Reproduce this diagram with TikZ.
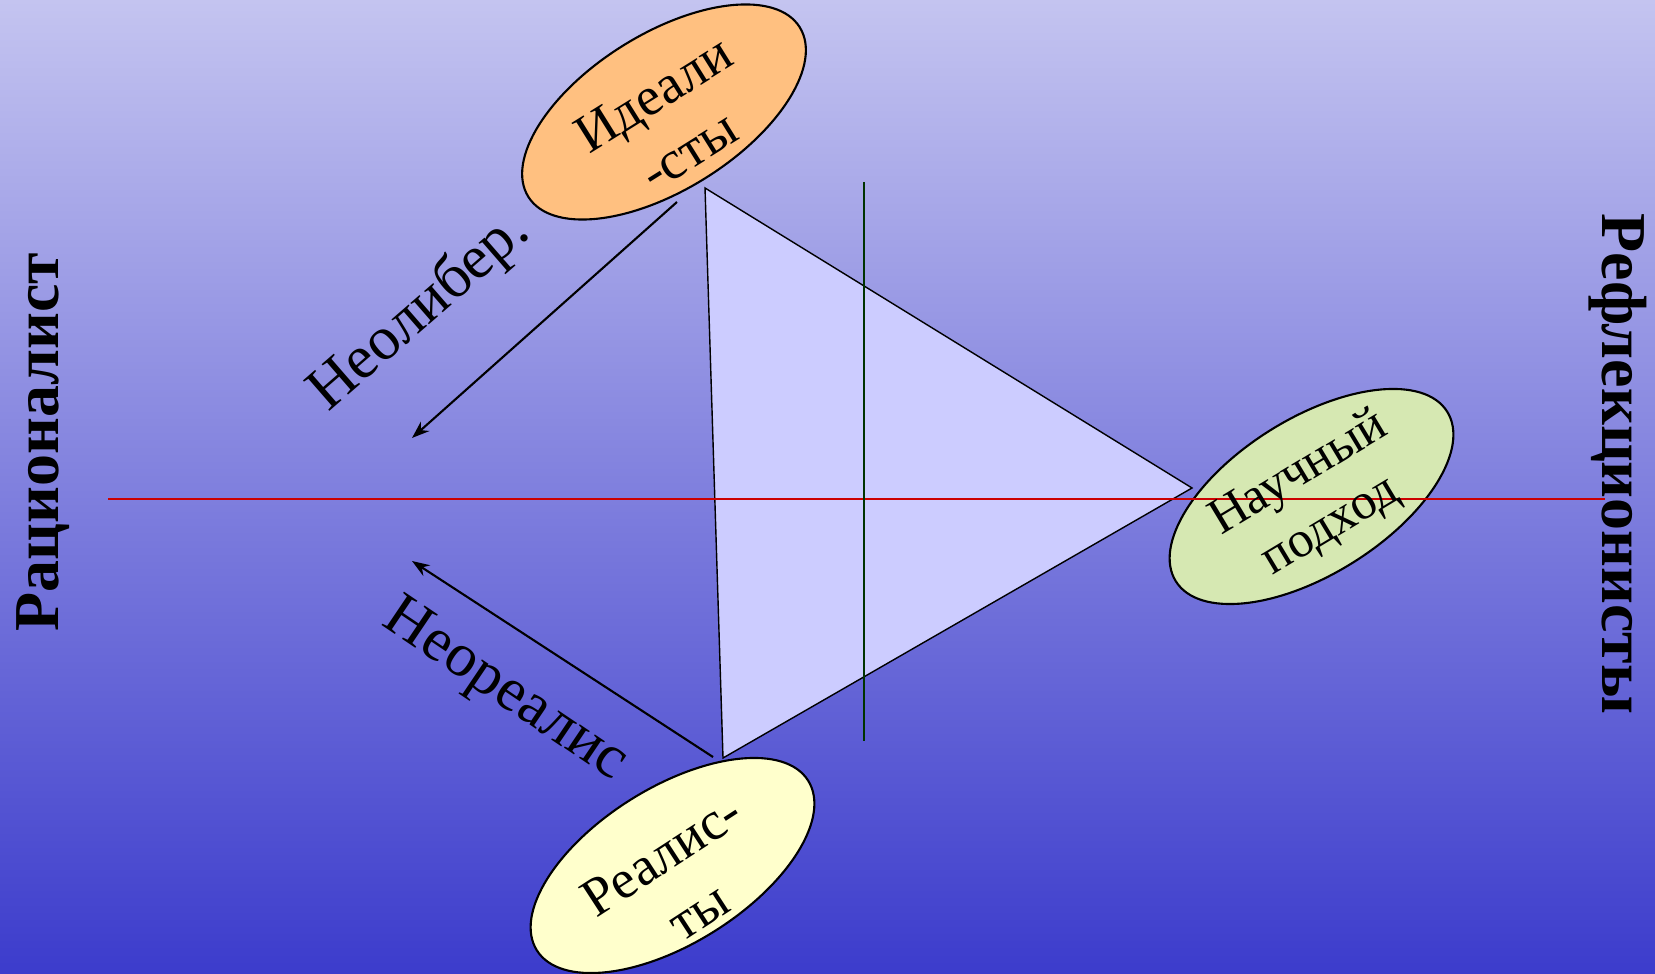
\documentclass[tikz,border=0pt]{standalone}
\usepackage{fontspec}
\setmainfont{Liberation Serif}
\usetikzlibrary{arrows.meta,shapes.geometric,positioning}
\definecolor{bgtop}{RGB}{196,196,240}
\definecolor{bgbot}{RGB}{60,60,204}
\definecolor{trifill}{RGB}{204,204,255}
\definecolor{idlfill}{RGB}{255,192,128}
\definecolor{scifill}{RGB}{214,232,178}
\definecolor{reafill}{RGB}{255,255,204}
\definecolor{axred}{RGB}{204,0,0}
\definecolor{axgrn}{RGB}{0,51,0}

\begin{document}
\begin{tikzpicture}[
    elp/.style={draw, ellipse, line width=0.6pt, minimum width=3.2cm, minimum height=1.56cm, inner sep=0pt, rotate=32},
    etxt/.style={align=center, inner sep=0pt, font=\fontsize{15.5}{19}\selectfont},
    arr/.style={-{Stealth[length=5pt,width=3.6pt]}, line width=0.6pt},
    lbl/.style={anchor=base, inner sep=0pt, font=\fontsize{17.5}{21}\selectfont},
    side/.style={anchor=base, inner sep=0pt, font=\fontsize{18.2}{22}\selectfont\bfseries}
]
\useasboundingbox (0,0) rectangle (16.55,9.73);
\shade[top color=bgtop, bottom color=bgbot] (0,0) rectangle (16.55,9.73);

% triangle
\coordinate (ta) at (7.05,7.85);
\coordinate (tb) at (11.92,4.85);
\coordinate (tc) at (7.23,2.15);
\draw[fill=trifill, line width=0.4pt] (ta) -- (tb) -- (tc) -- cycle;

% ellipses
\node[elp, fill=idlfill] (idl) at (6.64,8.61) {};
\node[elp, fill=scifill] (sci) at (13.115,4.765) {};
\node[elp, fill=reafill] (rea) at (6.725,1.075) {};

% axes
\coordinate (rl) at (1.08,4.74);
\coordinate (rr) at (16.05,4.74);
\coordinate (vt) at (8.64,7.91);
\coordinate (vb) at (8.64,2.32);
\draw[axred, line width=0.8pt] (rl) -- (rr);
\draw[axgrn, line width=0.8pt] (vt) -- (vb);

\node[etxt, rotate=32] (idltxt) at ([xshift=2pt,yshift=-3pt]idl.center) {Идеали\\-сты};
\node[etxt, rotate=31, font=\fontsize{14.5}{17.5}\selectfont] (scitxt) at ([xshift=1pt,yshift=-1pt]sci.center) {Научный\\подход};
\node[etxt, rotate=33] (reatxt) at ([xshift=2pt,yshift=-5pt]rea.center) {Реалис-\\ты};

% arrows
\coordinate (ns) at (6.77,7.71);
\coordinate (ne) at (4.12,5.35);
\coordinate (rs) at (7.13,2.16);
\coordinate (re) at (4.12,4.12);
\draw[arr] (ns) -- (ne);
\draw[arr] (rs) -- (re);
\node[lbl, rotate=41] (nlib) at (4.30,6.49) {Неолибер.};
\node[lbl, rotate=-34] (nrea) at (4.97,2.70) {Неореалис};

% sides
\node[side, rotate=90] (rac) at (0.58,5.31) {Рационалист};
\node[side, rotate=-90] (ref) at (16.02,5.09) {Рефлекционисты};
\end{tikzpicture}
\end{document}
